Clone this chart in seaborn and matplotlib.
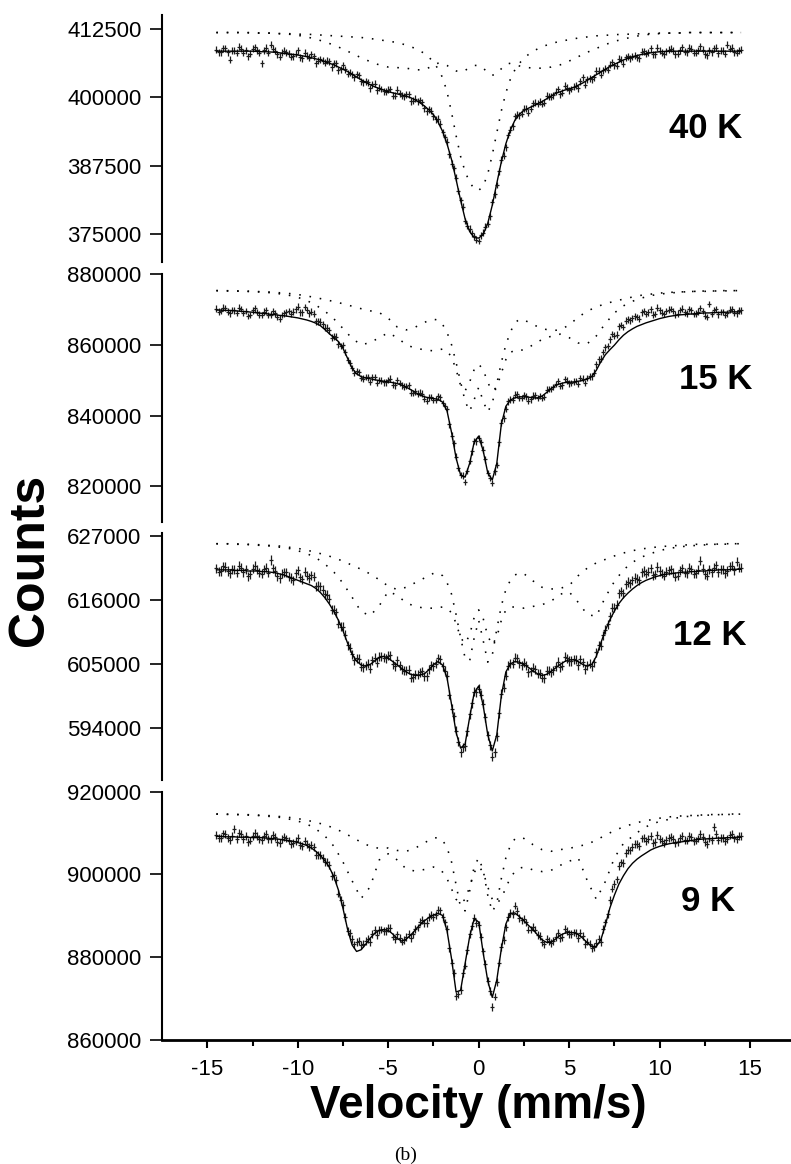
import numpy as np
import matplotlib
matplotlib.use("Agg")
import matplotlib.pyplot as plt
import seaborn as sns
from matplotlib.ticker import FixedLocator, FuncFormatter

sns.set_theme(style="ticks")
plt.rcParams["font.family"] = ["Liberation Sans", "DejaVu Sans"]
plt.rcParams["axes.unicode_minus"] = False
for k in ["text.color", "axes.labelcolor", "xtick.color", "ytick.color", "axes.edgecolor"]:
    plt.rcParams[k] = "black"

# velocity grids (mm/s)
V = np.arange(-14.5, 14.51, 0.25)                       # channels (even) / fit
VM = V[:-1] + 0.125                                      # channels (odd)
VD = np.r_[np.arange(-14.5, -3.0, 0.5), np.arange(-3.0, 3.01, 0.25), np.arange(3.5, 14.51, 0.5)]  # sub-spectra

# ---------------- 40 K (counts / 1000) ----------------
data_40K = [
    408.7, 408.2, 408.9, 406.8, 408.5, 409.2, 408.1, 407.5, 408.8, 408.6,
    406.2, 409.0, 409.6, 408.5, 407.4, 408.5, 407.9, 407.5, 408.6, 407.1,
    407.6, 407.8, 406.2, 406.9, 406.3, 406.6, 406.2, 404.9, 405.8, 404.3,
    404.2, 404.2, 402.9, 402.9, 401.6, 402.5, 401.7, 401.1, 401.4, 400.3,
    401.4, 400.3, 400.5, 399.3, 399.7, 399.5, 398.0, 397.8, 396.5, 396.1,
    393.6, 391.9, 387.9, 385.3, 381.2, 377.4, 376.0, 374.6, 373.8, 375.3,
    376.9, 380.9, 384.0, 388.6, 390.9, 394.1, 396.5, 396.7, 397.9, 397.2,
    398.9, 398.8, 398.8, 400.3, 400.1, 401.0, 400.5, 402.1, 401.3, 401.9,
    401.6, 403.6, 403.3, 403.3, 404.8, 404.1, 405.2, 405.9, 405.8, 407.0,
    406.1, 407.5, 407.4, 407.3, 408.3, 407.9, 408.9, 407.8, 408.5, 407.8,
    408.7, 408.5, 407.9, 409.1, 408.2, 408.8, 408.1, 409.3, 407.8, 408.6,
    408.9, 408.0, 408.5, 409.6, 409.0, 408.1, 408.7]
mid_40K = [
    408.2, 408.9, 408.2, 408.5, 408.1, 408.8, 408.6, 407.9, 409.1, 408.1,
    408.6, 408.1, 408.8, 407.8, 408.1, 408.2, 407.4, 407.9, 407.3, 408.1,
    407.2, 407.5, 406.7, 406.7, 406.7, 405.5, 406.2, 405.1, 405.1, 404.5,
    403.6, 404.0, 402.7, 402.7, 402.4, 401.3, 401.5, 401.0, 401.5, 400.3,
    400.7, 400.2, 400.5, 399.4, 399.3, 399.1, 397.4, 397.5, 396.0, 395.2,
    392.7, 389.6, 387.1, 382.9, 380.0, 376.6, 375.2, 374.0, 374.8, 376.4,
    378.3, 382.3, 386.5, 389.3, 393.1, 394.7, 396.8, 397.0, 397.9, 397.9,
    399.0, 399.2, 399.0, 400.2, 400.4, 401.5, 400.8, 401.7, 401.5, 402.1,
    402.9, 402.3, 403.5, 403.6, 404.8, 404.9, 405.0, 406.4, 405.7, 406.8,
    407.3, 407.1, 407.6, 407.1, 408.4, 408.2, 407.8, 409.0, 408.1, 408.4,
    408.8, 407.8, 408.6, 408.3, 409.0, 408.1, 408.6, 408.7, 407.7, 408.2,
    409.0, 408.5, 407.9, 408.8, 408.2, 408.6]
fit_40K = [
    408.4, 408.4, 408.4, 408.4, 408.4, 408.4, 408.4, 408.4, 408.4, 408.35,
    408.3, 408.3, 408.25, 408.2, 408.1, 408.0, 407.9, 407.8, 407.7, 407.55,
    407.4, 407.2, 407.0, 406.8, 406.5, 406.2, 405.9, 405.5, 405.1, 404.7,
    404.2, 403.7, 403.2, 402.7, 402.3, 401.9, 401.6, 401.3, 401.0, 400.8,
    400.6, 400.4, 400.2, 399.9, 399.5, 399.0, 398.4, 397.7, 396.8, 395.5,
    393.8, 391.5, 388.6, 385.0, 381.2, 377.8, 375.5, 374.4, 374.3, 375.0,
    377.0, 380.3, 384.3, 388.2, 391.5, 394.0, 395.8, 396.9, 397.6, 398.0,
    398.4, 398.8, 399.2, 399.7, 400.2, 400.7, 401.0, 401.3, 401.5, 401.8,
    402.2, 402.6, 403.1, 403.6, 404.1, 404.6, 405.1, 405.6, 406.0, 406.4,
    406.8, 407.1, 407.4, 407.6, 407.8, 407.95, 408.1, 408.2, 408.3, 408.35,
    408.4, 408.4, 408.4, 408.4, 408.4, 408.4, 408.4, 408.4, 408.4, 408.4,
    408.4, 408.4, 408.4, 408.4, 408.4, 408.4, 408.4]
subA_40K = [
    411.8, 411.8, 411.8, 411.8, 411.7, 411.7, 411.7, 411.6, 411.6, 411.5, 411.5, 411.4,
    411.3, 411.2, 411.1, 411.0, 410.9, 410.7, 410.5, 410.2, 410.0, 409.5, 408.9,
    408.0, 407.3, 406.4, 405.2, 403.6, 401.0, 397.2, 393.0, 389.2, 386.4, 384.5, 383.3,
    383.0, 383.8, 386.0, 389.5, 393.5, 397.5, 400.8, 403.3, 405.0, 406.2, 407.1, 407.8, 408.4,
    409.2, 409.8, 410.2, 410.5, 410.8, 411.0, 411.2, 411.3, 411.4, 411.5, 411.5, 411.6,
    411.6, 411.7, 411.7, 411.7, 411.8, 411.8, 411.8, 411.8, 411.8, 411.8, 411.8]
subB_40K = [
    411.8, 411.8, 411.8, 411.8, 411.8, 411.7, 411.7, 411.6, 411.5, 411.3, 411.0, 410.6,
    410.1, 409.5, 408.8, 408.0, 407.2, 406.5, 405.9, 405.5, 405.4, 405.3, 405.0,
    405.0, 405.4, 405.9, 406.2, 406.2, 405.8, 405.2, 404.8, 404.6, 404.9, 405.4, 405.8,
    405.8, 405.3, 404.5, 404.0, 404.3, 405.2, 406.0, 406.2, 406.0, 405.7, 405.5, 405.4, 405.3,
    405.3, 405.5, 405.9, 406.6, 407.4, 408.2, 408.9, 409.6, 410.2, 410.6, 411.0, 411.3,
    411.5, 411.6, 411.7, 411.7, 411.8, 411.8, 411.8, 411.8, 411.8, 411.8, 411.8]

# ---------------- 15 K ----------------
data_15K = [
    870.2, 869.5, 870.4, 868.9, 869.7, 870.5, 869.0, 868.1, 869.7, 869.3,
    868.4, 869.7, 868.5, 868.9, 867.4, 868.9, 869.5, 869.4, 870.8, 869.2,
    869.8, 869.4, 866.6, 866.5, 864.8, 864.1, 862.4, 860.1, 859.9, 855.7,
    853.4, 852.5, 850.6, 850.9, 849.5, 850.9, 850.0, 849.4, 850.0, 848.7,
    850.0, 848.5, 848.4, 846.5, 846.8, 846.5, 844.8, 845.1, 844.4, 845.4,
    843.5, 841.8, 834.3, 828.4, 823.2, 821.2, 827.1, 832.8, 833.6, 830.4,
    823.7, 821.0, 826.1, 838.0, 841.8, 844.5, 845.9, 845.0, 845.7, 844.2,
    845.6, 845.0, 845.0, 847.3, 847.5, 848.9, 848.3, 850.3, 849.1, 849.6,
    848.9, 850.4, 850.6, 851.1, 854.5, 856.1, 859.3, 861.5, 862.6, 865.2,
    865.0, 867.2, 867.5, 867.8, 869.2, 868.7, 870.0, 868.7, 869.7, 868.7,
    869.9, 869.5, 868.8, 870.2, 868.9, 869.7, 868.8, 870.4, 868.2, 871.5,
    869.8, 868.6, 869.3, 868.9, 870.1, 868.9, 869.7]
mid_15K = [
    869.4, 870.5, 869.4, 869.8, 869.0, 870.1, 869.6, 868.4, 870.3, 868.5,
    869.4, 868.4, 869.5, 867.8, 868.4, 869.2, 868.8, 870.0, 869.2, 870.7,
    868.9, 868.8, 866.6, 865.8, 864.8, 862.0, 862.3, 859.7, 858.0, 854.9,
    852.0, 852.3, 850.4, 850.8, 850.8, 849.2, 849.9, 849.4, 850.4, 848.5,
    849.2, 848.2, 848.5, 846.4, 846.2, 846.2, 844.2, 845.3, 844.5, 845.1,
    842.7, 837.5, 832.1, 825.2, 823.0, 824.4, 829.9, 832.7, 832.4, 827.6,
    822.3, 824.2, 832.4, 839.2, 844.0, 844.5, 846.0, 844.9, 845.4, 844.6,
    845.7, 845.5, 845.2, 847.5, 848.0, 849.8, 848.5, 849.9, 849.2, 849.7,
    850.6, 849.2, 851.1, 852.1, 855.9, 858.0, 859.6, 863.0, 862.9, 865.6,
    866.8, 866.9, 868.0, 867.4, 869.5, 869.2, 868.5, 870.5, 869.1, 869.5,
    870.1, 868.5, 869.8, 869.2, 870.1, 868.7, 869.4, 869.5, 867.8, 868.7,
    870.1, 869.3, 868.4, 869.9, 869.1, 869.7]
fit_15K = [
    869.8, 869.8, 869.7, 869.7, 869.6, 869.5, 869.4, 869.3, 869.2, 869.0,
    868.9, 868.8, 868.6, 868.5, 868.3, 868.2, 868.0, 867.8, 867.6, 867.3,
    867.0, 866.6, 866.1, 865.4, 864.3, 863.1, 862.0, 860.9, 859.0, 856.2,
    853.4, 851.8, 851.0, 850.6, 850.4, 850.1, 849.9, 849.7, 849.5, 849.3,
    849.0, 848.6, 848.0, 847.3, 846.5, 845.8, 845.3, 845.0, 844.8, 844.6,
    843.8, 841.3, 835.2, 828.0, 823.2, 822.6, 826.5, 832.5, 834.2, 830.0,
    823.8, 821.8, 826.5, 837.5, 842.6, 844.4, 845.0, 845.3, 845.3, 845.2,
    845.0, 845.0, 845.5, 846.5, 847.6, 848.5, 849.0, 849.3, 849.4, 849.5,
    849.7, 849.9, 850.3, 851.0, 852.8, 855.2, 857.2, 858.6, 859.9, 861.4,
    862.7, 863.7, 864.5, 865.2, 865.7, 866.2, 866.6, 867.0, 867.4, 867.7,
    868.0, 868.2, 868.4, 868.5, 868.6, 868.7, 868.8, 868.9, 869.0, 869.0,
    869.1, 869.1, 869.2, 869.2, 869.3, 869.3, 869.3]
subA_15K = [
    875.3, 875.3, 875.2, 875.2, 875.1, 875.0, 874.9, 874.7, 874.5, 874.2, 873.8, 873.3,
    872.8, 872.2, 871.6, 870.9, 870.2, 869.6, 869.1, 867.5, 865.0, 864.2, 865.0,
    866.3, 866.9, 867.2, 867.0, 865.8, 863.5, 860.0, 855.0, 849.5, 844.0, 841.2, 844.5,
    848.0, 844.0, 841.0, 843.5, 849.0, 855.0, 860.0, 863.6, 866.2, 867.2, 867.0, 866.4, 865.7,
    864.6, 864.0, 864.2, 865.6, 867.8, 869.5, 870.7, 871.6, 872.3, 872.9, 873.5, 874.0,
    874.3, 874.6, 874.8, 874.9, 875.0, 875.1, 875.2, 875.2, 875.3, 875.3, 875.3]
subB_15K = [
    875.3, 875.2, 875.2, 875.1, 875.0, 874.9, 874.7, 874.4, 874.0, 873.4, 872.5, 871.2,
    869.5, 867.3, 864.6, 861.8, 860.0, 860.6, 862.0, 863.4, 862.0, 860.0, 859.0,
    858.6, 858.4, 858.3, 858.5, 858.8, 858.3, 856.5, 853.0, 848.5, 847.0, 849.5, 853.0,
    854.5, 853.0, 849.3, 847.0, 848.0, 852.0, 855.8, 857.8, 858.5, 858.4, 858.6, 859.2, 860.0,
    861.5, 862.4, 863.0, 862.0, 860.5, 860.3, 862.5, 866.0, 869.0, 871.0, 872.3, 873.2,
    873.9, 874.3, 874.6, 874.8, 875.0, 875.1, 875.1, 875.2, 875.2, 875.3, 875.3]

# ---------------- 12 K ----------------
data_12K = [
    621.5, 621.0, 621.7, 620.6, 621.2, 621.9, 620.8, 620.1, 621.4, 621.2,
    620.5, 621.6, 622.9, 621.0, 619.8, 620.8, 620.0, 619.4, 621.1, 619.6,
    620.2, 620.3, 618.4, 618.4, 617.0, 616.2, 614.3, 611.9, 611.4, 608.2,
    606.7, 606.0, 604.5, 604.8, 604.2, 606.1, 606.2, 606.1, 606.4, 604.9,
    605.6, 604.1, 603.9, 602.6, 603.2, 603.6, 602.9, 604.1, 604.6, 606.0,
    604.6, 603.0, 597.3, 593.5, 589.8, 590.8, 596.3, 600.2, 600.7, 598.1,
    592.7, 589.0, 592.5, 599.9, 603.0, 605.1, 606.1, 605.1, 605.2, 603.6,
    604.3, 603.3, 602.6, 603.8, 603.6, 604.6, 604.4, 606.2, 605.5, 605.8,
    604.8, 605.3, 604.8, 604.6, 607.0, 608.1, 610.9, 613.2, 614.7, 617.2,
    617.2, 619.1, 619.4, 619.7, 620.8, 620.5, 621.5, 620.4, 621.0, 620.2,
    621.1, 620.7, 620.2, 621.5, 620.6, 621.3, 620.6, 622.8, 620.4, 621.3,
    621.6, 620.8, 621.3, 621.0, 621.9, 622.6, 621.6]
mid_12K = [
    620.9, 621.8, 621.0, 621.3, 620.7, 621.6, 621.3, 620.4, 621.9, 620.7,
    621.3, 620.7, 621.5, 620.1, 620.5, 620.8, 619.8, 620.6, 619.9, 620.9,
    619.8, 620.0, 618.5, 617.8, 616.9, 614.3, 613.9, 611.4, 610.0, 607.8,
    605.6, 605.9, 604.4, 605.0, 605.6, 605.2, 606.3, 606.0, 606.5, 604.6,
    604.8, 603.8, 604.0, 602.7, 603.1, 603.7, 602.9, 604.8, 605.0, 605.8,
    603.8, 599.7, 596.0, 591.6, 590.6, 593.4, 598.2, 600.1, 599.7, 595.8,
    591.0, 589.8, 596.5, 600.9, 604.7, 605.0, 606.0, 604.8, 604.8, 603.7,
    604.1, 603.4, 602.5, 603.8, 603.9, 605.4, 604.7, 606.0, 605.5, 605.7,
    605.8, 604.1, 605.0, 605.3, 608.2, 609.9, 611.8, 614.7, 615.2, 617.5,
    618.7, 618.9, 619.8, 619.4, 621.0, 620.9, 620.3, 621.7, 620.5, 620.9,
    621.3, 620.0, 621.1, 620.7, 621.6, 620.5, 621.2, 621.4, 620.2, 620.8,
    622.0, 621.3, 620.6, 621.8, 621.1, 621.6]
fit_12K = [
    621.2, 621.2, 621.2, 621.2, 621.1, 621.1, 621.1, 621.0, 621.0, 621.0,
    620.9, 620.9, 620.8, 620.7, 620.5, 620.3, 620.0, 619.7, 619.4, 619.1,
    618.8, 618.5, 618.0, 617.3, 616.4, 615.3, 614.0, 612.5, 610.7, 608.6,
    606.7, 605.5, 604.8, 604.6, 604.9, 605.5, 606.1, 606.3, 606.0, 605.4,
    604.8, 604.2, 603.6, 603.2, 603.0, 603.1, 603.3, 604.0, 604.9, 605.4,
    604.8, 602.6, 598.0, 593.2, 590.5, 591.2, 595.8, 600.0, 601.2, 597.8,
    592.8, 590.0, 592.8, 599.5, 603.6, 605.0, 605.4, 605.3, 604.9, 604.4,
    603.8, 603.3, 603.0, 603.2, 603.7, 604.3, 604.9, 605.4, 605.7, 605.7,
    605.4, 604.9, 604.6, 604.9, 606.3, 608.6, 610.8, 612.6, 614.1, 615.4,
    616.4, 617.2, 617.9, 618.5, 619.0, 619.4, 619.7, 620.0, 620.2, 620.4,
    620.5, 620.6, 620.7, 620.8, 620.8, 620.9, 620.9, 621.0, 621.0, 621.1,
    621.1, 621.2, 621.2, 621.2, 621.3, 621.3, 621.3]
subA_12K = [
    625.7, 625.7, 625.7, 625.6, 625.6, 625.5, 625.4, 625.3, 625.1, 624.9, 624.6, 624.2,
    623.8, 623.3, 622.7, 622.0, 621.3, 620.5, 619.5, 618.4, 617.8, 618.2, 619.0,
    619.8, 620.2, 620.6, 620.7, 620.2, 619.0, 617.0, 613.5, 609.5, 606.0, 605.5, 609.5,
    612.5, 609.0, 605.3, 606.5, 611.0, 615.0, 617.8, 619.4, 620.3, 620.7, 620.5, 620.0, 619.3,
    618.2, 617.9, 618.0, 618.5, 620.2, 621.5, 622.4, 623.0, 623.6, 624.1, 624.5, 624.8,
    625.0, 625.2, 625.3, 625.4, 625.5, 625.6, 625.6, 625.6, 625.7, 625.7, 625.7]
subB_12K = [
    625.7, 625.7, 625.6, 625.6, 625.5, 625.4, 625.3, 625.1, 624.9, 624.5, 624.0, 623.3,
    622.2, 620.8, 618.9, 616.5, 614.0, 613.3, 615.0, 617.5, 616.8, 615.5, 614.9,
    614.6, 614.6, 614.6, 614.7, 614.8, 614.6, 613.8, 612.0, 609.5, 608.5, 610.0, 613.0,
    614.3, 612.8, 609.8, 608.3, 609.6, 612.5, 614.3, 614.8, 614.8, 614.7, 614.6, 614.7, 614.9,
    615.2, 615.8, 617.0, 617.4, 615.6, 613.5, 613.2, 616.5, 619.2, 621.2, 622.5, 623.4,
    624.0, 624.5, 624.9, 625.1, 625.3, 625.4, 625.5, 625.6, 625.6, 625.7, 625.7]

# ---------------- 9 K ----------------
data_9K = [
    909.6, 908.9, 909.8, 908.3, 911.0, 910.0, 908.6, 907.8, 909.4, 909.2,
    908.4, 909.7, 908.6, 909.0, 907.6, 909.0, 908.2, 907.6, 908.9, 906.8,
    907.3, 907.2, 904.6, 904.7, 903.0, 902.2, 899.8, 895.4, 892.7, 886.3,
    884.5, 883.6, 882.9, 883.9, 883.7, 886.6, 886.6, 886.4, 887.0, 885.0,
    885.5, 883.8, 884.8, 884.6, 886.9, 888.5, 888.3, 889.7, 889.8, 891.4,
    889.8, 886.9, 878.7, 870.6, 872.0, 878.0, 885.7, 889.6, 887.9, 881.4,
    874.2, 868.0, 874.1, 882.5, 887.2, 890.7, 892.5, 889.5, 889.2, 886.7,
    887.4, 885.4, 883.7, 884.4, 883.5, 884.8, 884.7, 886.8, 885.7, 886.0,
    884.7, 885.1, 883.8, 882.2, 883.5, 883.6, 888.4, 893.8, 897.7, 902.0,
    902.8, 905.9, 906.7, 907.3, 908.7, 908.1, 909.4, 907.9, 908.6, 907.5,
    908.8, 908.5, 907.8, 909.3, 908.2, 909.0, 908.2, 909.7, 907.8, 908.9,
    911.5, 908.3, 908.9, 908.6, 909.7, 908.6, 909.4]
mid_9K = [
    908.8, 909.9, 908.9, 909.2, 908.6, 909.7, 909.3, 908.2, 910.1, 908.5,
    909.4, 908.5, 909.6, 907.9, 908.5, 908.7, 907.3, 908.1, 907.1, 908.2,
    906.6, 906.7, 904.7, 904.0, 903.0, 899.7, 898.6, 893.8, 889.7, 885.8,
    883.1, 884.0, 883.3, 884.4, 885.7, 885.4, 886.7, 886.4, 887.1, 884.4,
    884.6, 884.1, 885.7, 885.5, 887.2, 889.0, 888.2, 890.3, 890.2, 891.3,
    888.4, 882.2, 876.1, 871.0, 876.1, 881.7, 887.6, 888.3, 885.0, 878.3,
    871.8, 870.5, 878.7, 884.1, 889.8, 890.4, 891.1, 888.9, 888.4, 886.7,
    886.7, 885.1, 883.1, 884.0, 883.9, 885.9, 884.9, 886.4, 885.7, 885.8,
    885.9, 883.2, 883.3, 882.5, 884.4, 886.8, 890.4, 896.6, 898.8, 902.9,
    905.1, 905.8, 907.3, 906.9, 908.9, 908.6, 907.7, 909.6, 908.0, 908.4,
    909.1, 907.5, 908.8, 908.3, 909.4, 908.0, 908.7, 909.1, 907.4, 908.3,
    909.8, 908.9, 908.1, 909.6, 908.7, 909.4]
fit_9K = [
    909.2, 909.2, 909.1, 909.1, 909.1, 909.0, 909.0, 909.0, 908.9, 908.9,
    908.9, 908.8, 908.7, 908.6, 908.5, 908.3, 908.2, 908.0, 907.7, 907.4,
    907.0, 906.4, 905.6, 904.6, 903.3, 901.7, 899.4, 896.2, 891.8, 886.8,
    883.0, 881.4, 881.8, 883.1, 884.6, 885.8, 886.5, 886.7, 886.5, 885.6,
    884.5, 883.9, 884.4, 885.4, 886.6, 887.8, 888.8, 889.6, 890.2, 890.6,
    890.1, 886.4, 879.6, 871.6, 872.0, 878.5, 885.0, 889.3, 888.5, 881.0,
    874.3, 870.3, 874.5, 882.0, 888.0, 890.6, 890.7, 889.8, 888.8, 887.7,
    886.7, 885.4, 884.2, 883.6, 883.6, 884.4, 885.3, 885.8, 886.0, 885.9,
    885.5, 884.6, 883.5, 882.6, 882.6, 884.2, 887.8, 891.9, 895.0, 897.7,
    899.7, 901.4, 902.7, 903.7, 904.5, 905.2, 905.9, 906.4, 906.8, 907.1,
    907.4, 907.6, 907.8, 907.9, 908.1, 908.2, 908.4, 908.5, 908.6, 908.6,
    908.7, 908.8, 908.8, 908.9, 908.9, 909.0, 909.0]
subA_9K = [
    914.6, 914.6, 914.5, 914.5, 914.4, 914.3, 914.2, 914.0, 913.8, 913.5, 913.1, 912.6,
    912.0, 911.2, 910.2, 909.0, 907.8, 906.8, 906.3, 906.4, 905.8, 905.6, 906.4,
    907.6, 908.3, 908.8, 908.9, 908.3, 906.5, 903.0, 897.5, 892.0, 891.2, 896.0, 902.0,
    904.0, 901.0, 895.0, 891.0, 893.0, 899.0, 904.0, 907.0, 908.6, 909.0, 908.7, 908.0, 907.2,
    906.0, 905.6, 906.0, 906.3, 906.8, 907.3, 908.3, 909.5, 910.6, 911.5, 912.2, 912.8,
    913.2, 913.6, 913.9, 914.1, 914.2, 914.3, 914.4, 914.5, 914.5, 914.6, 914.6]
subB_9K = [
    914.6, 914.5, 914.5, 914.4, 914.3, 914.2, 914.0, 913.8, 913.4, 912.9, 912.2, 911.0,
    909.3, 906.8, 903.0, 898.5, 894.2, 897.0, 903.5, 905.0, 903.5, 901.3, 900.8,
    901.2, 901.5, 901.8, 901.5, 900.6, 899.0, 896.5, 894.0, 893.0, 894.0, 897.0, 900.5,
    902.0, 900.5, 897.0, 894.0, 893.0, 894.2, 896.8, 899.2, 900.7, 901.5, 901.8, 901.5, 901.1,
    900.7, 901.0, 902.2, 903.2, 904.0, 898.5, 894.0, 898.3, 904.0, 907.5, 909.2, 910.9,
    912.1, 912.8, 913.3, 913.7, 914.0, 914.2, 914.3, 914.4, 914.5, 914.5, 914.6]

labels = ["40 K", "15 K", "12 K", "9 K"]
yticks = [[375000, 387500, 400000, 412500],
          [820000, 840000, 860000, 880000],
          [594000, 605000, 616000, 627000],
          [860000, 880000, 900000, 920000]]
xticks = [-15, -10, -5, 0, 5, 10, 15]

panels = [
    (data_40K, mid_40K, fit_40K, subA_40K, subB_40K),
    (data_15K, mid_15K, fit_15K, subA_15K, subB_15K),
    (data_12K, mid_12K, fit_12K, subA_12K, subB_12K),
    (data_9K, mid_9K, fit_9K, subA_9K, subB_9K),
]
for d, m, f, a, b in panels:
    assert len(d) == len(V) and len(f) == len(V), (len(d), len(f))
    assert len(m) == len(VM), len(m)
    assert len(a) == len(VD) and len(b) == len(VD), (len(a), len(b))

# layout (figure fractions) and axis ranges
W_PX, H_PX = 791, 1164
left_px = 161.7
boxes_px = [(15, 261.7), (274, 521.7), (532.7, 780), (791.7, 1040)]
ylims = [(370000, 415000), (810000, 880000), (585000, 627600), (860000, 920000)]
label_pos = [(0.806, 0.501), (0.822, 0.535), (0.8125, 0.546), (0.825, 0.521)]

fig = plt.figure(figsize=(W_PX / 100, H_PX / 100), dpi=100)
dot_ls = (0, (1, 5.5))
ink = "#1c1c1c"
v_all = np.r_[V, VM]

for i, ((d, m, f, a, b), (top, bot)) in enumerate(zip(panels, boxes_px)):
    ax = fig.add_axes([left_px / W_PX, 1 - bot / H_PX, 1 - left_px / W_PX, (bot - top) / H_PX])
    counts = np.r_[np.asarray(d), np.asarray(m)] * 1000.0
    ax.errorbar(v_all, counts, yerr=np.sqrt(counts), fmt="none", ecolor=ink,
                elinewidth=0.9, capsize=0, zorder=2)
    ax.plot(v_all, counts, ls="none", marker="_", ms=3.5, mew=0.9, color=ink, zorder=2)
    sns.lineplot(x=V, y=np.asarray(f) * 1000.0, ax=ax, color="black", linewidth=1.0,
                 sort=False, errorbar=None, zorder=3)
    for s in (a, b):
        sns.lineplot(x=VD, y=np.asarray(s) * 1000.0, ax=ax, color="black", linewidth=1.15,
                     linestyle=dot_ls, sort=False, errorbar=None, zorder=3)

    ax.set_xlim(-17.52, 17.26)
    ax.set_ylim(*ylims[i])
    ax.yaxis.set_major_locator(FixedLocator(yticks[i]))
    ax.yaxis.set_major_formatter(FuncFormatter(lambda v, p: f"{int(round(v))}"))
    ax.tick_params(axis="y", direction="out", length=8.6, width=1.2, labelsize=16,
                   pad=6.0, colors="black")
    ax.spines["left"].set_linewidth(1.5)
    ax.spines["top"].set_visible(False)
    ax.spines["right"].set_visible(False)
    ax.set_xlabel("")
    ax.set_ylabel("")
    ax.set_facecolor("none")
    tx, ty = label_pos[i]
    ax.text(tx, ty, labels[i], transform=ax.transAxes, fontsize=25, fontweight="bold",
            ha="left", va="baseline")
    if i < 3:
        ax.spines["bottom"].set_visible(False)
        ax.tick_params(axis="x", which="both", bottom=False, labelbottom=False)
    else:
        ax.spines["bottom"].set_linewidth(2.0)
        ax.xaxis.set_major_locator(FixedLocator(xticks))
        ax.xaxis.set_minor_locator(FixedLocator([-12.5, -7.5, -2.5, 2.5, 7.5, 12.5]))
        ax.xaxis.set_major_formatter(FuncFormatter(lambda v, p: f"{int(round(v))}"))
        ax.tick_params(axis="x", which="major", direction="out", length=6, width=1.5,
                       labelsize=16, pad=8, colors="black")
        ax.tick_params(axis="x", which="minor", direction="out", length=4.5, width=1.5,
                       colors="black")
        ax.set_xlabel("Velocity (mm/s)", fontsize=33, fontweight="bold", va="baseline")
        ax.xaxis.set_label_coords(478.7 / W_PX, 1 - 1117.5 / H_PX, transform=fig.transFigure)

fig.text(43 / W_PX, 1 - 560 / H_PX, "Counts", rotation=90, rotation_mode="anchor",
         ha="center", va="baseline", fontsize=36, fontweight="bold")
fig.text(406 / W_PX, (H_PX - 1159.5) / H_PX, "(b)", family=["Liberation Serif", "DejaVu Serif"],
         fontsize=14, ha="center", va="baseline")

fig.savefig("out.png", dpi=100, facecolor="white")
